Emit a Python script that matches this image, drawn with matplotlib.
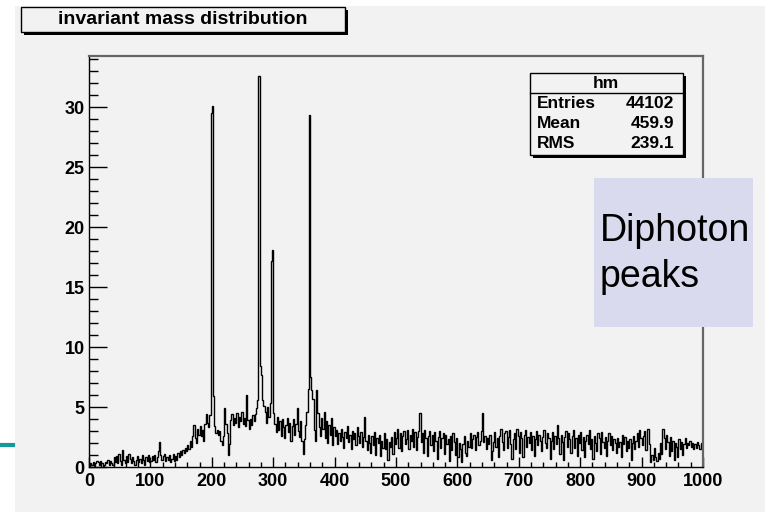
import numpy as np
import matplotlib.pyplot as plt
from matplotlib.patches import Rectangle
from matplotlib.lines import Line2D

# histogram "hm": 500 bins of width 2 between 0 and 1000
x_lo, x_hi, n_bins = 0, 1000, 500

c_000 = [0, 0.3, 0.2, 0.4, 0.1, 0.3, 0.5, 0.4, 0.2, 0.5,
         0.3, 0.1, 0.2, 0.4, 0.3, 0.6, 0.2, 0.5, 0.3, 0.2,
         0.8, 0.4, 0.9, 0.3, 1.1, 0.5, 0.2, 1.4, 0.6, 0.3,
         0.9, 0.4, 1.1, 0.7, 0.3, 0.8, 0.5, 0.2, 0.6, 0.9,
         0.4, 0.7, 0.3, 1.0, 0.6, 0.2, 0.8, 0.5, 1.0, 0.4]
c_100 = [0.5, 0.9, 0.6, 1.0, 0.4, 0.8, 1.3, 2.1, 1.0, 0.6,
         0.9, 1.1, 0.5, 0.8, 0.6, 1.0, 0.4, 0.7, 1.1, 0.5,
         0.9, 0.6, 1.2, 0.8, 1.3, 1.0, 1.4, 1.2, 1.6, 1.3,
         1.8, 1.5, 2.2, 1.7, 2.6, 3.5, 2.4, 2.0, 3.2, 2.7,
         3.4, 2.6, 3.1, 2.2, 3.6, 4.4, 3.7, 3.3, 4.3, 29.5]
c_200 = [30.1, 5.9, 3.4, 2.8, 3.1, 2.7, 3.0, 2.2, 1.8, 2.6,
         4.9, 3.6, 2.8, 1.0, 1.9, 3.9, 4.4, 3.5, 4.1, 3.7,
         4.5, 3.3, 4.2, 3.8, 4.6, 3.6, 4.1, 3.4, 6.0, 3.9,
         3.2, 4.0, 3.5, 4.3, 3.8, 4.4, 4.9, 5.6, 32.6, 8.4,
         7.7, 5.6, 5.1, 4.6, 3.7, 5.0, 4.2, 5.3, 17.2, 18.1]
c_300 = [4.5, 3.6, 2.9, 4.2, 3.1, 3.8, 2.6, 4.0, 3.3, 2.4,
         3.5, 4.1, 2.9, 3.7, 2.2, 3.4, 4.0, 2.7, 3.6, 4.9,
         3.0, 2.5, 3.8, 2.2, 1.1, 2.3, 3.5, 4.6, 6.5, 29.3,
         7.5, 6.4, 5.7, 3.1, 2.2, 6.4, 4.5, 3.3, 2.6, 4.1,
         3.2, 4.6, 2.4, 3.8, 2.0, 3.5, 2.7, 4.1, 1.8, 3.3]
c_400 = [2.6, 3.1, 1.9, 2.8, 2.2, 3.2, 2.5, 1.6, 2.9, 2.4,
         3.4, 2.1, 2.7, 1.5, 3.0, 2.3, 2.8, 1.8, 3.3, 2.6,
         2.0, 2.9, 1.7, 2.5, 4.2, 2.2, 1.4, 2.7, 2.0, 1.2,
         2.6, 1.8, 2.9, 1.0, 2.4, 2.0, 2.7, 0.9, 2.2, 1.6,
         2.8, 1.5, 2.3, 0.6, 2.1, 1.7, 2.5, 1.1, 2.9, 1.9]
c_500 = [2.4, 3.2, 1.6, 2.8, 1.3, 2.6, 3.0, 1.9, 2.3, 3.1,
         1.5, 2.7, 2.2, 3.2, 1.7, 2.9, 1.4, 2.5, 3.0, 4.5,
         2.1, 2.8, 1.2, 3.1, 2.4, 0.9, 2.6, 3.0, 1.8, 2.7,
         1.3, 2.9, 2.2, 0.7, 2.5, 3.0, 1.6, 2.4, 2.8, 1.1,
         2.7, 1.9, 2.3, 0.5, 2.6, 1.4, 2.8, 2.1, 1.0, 2.4]
c_600 = [0.8, 2.0, 1.5, 0.4, 1.9, 2.6, 1.2, 0.9, 2.2, 1.7,
         2.8, 1.6, 2.3, 2.7, 1.4, 2.5, 2.9, 1.8, 2.2, 3.0,
         4.5, 2.1, 2.6, 1.5, 2.4, 1.9, 2.7, 0.6, 1.3, 2.1,
         2.9, 1.7, 2.4, 0.8, 2.6, 3.2, 2.1, 1.4, 2.8, 3.0,
         1.6, 2.5, 3.1, 1.9, 0.7, 2.3, 2.8, 1.5, 3.2, 2.6]
c_700 = [1.2, 2.9, 2.4, 0.8, 2.7, 3.1, 1.7, 2.5, 2.0, 2.9,
         1.4, 2.6, 0.9, 2.3, 3.0, 1.8, 2.7, 2.2, 1.3, 2.5,
         3.1, 2.0, 1.6, 2.8, 2.4, 0.7, 2.2, 2.9, 1.5, 2.6,
         1.9, 3.5, 2.4, 1.1, 2.7, 2.1, 0.6, 2.5, 3.0, 1.7,
         2.8, 2.3, 1.2, 2.6, 3.1, 1.6, 2.4, 0.9, 2.7, 2.0]
c_800 = [2.9, 1.4, 2.5, 0.8, 2.2, 2.7, 1.9, 3.1, 1.5, 2.3,
         0.7, 2.6, 2.0, 1.3, 2.8, 2.4, 1.1, 2.9, 2.1, 1.6,
         2.5, 0.9, 2.2, 2.8, 1.8, 2.6, 1.4, 2.3, 2.0, 1.2,
         2.4, 1.7, 2.1, 0.8, 2.7, 1.9, 2.5, 1.3, 2.2, 1.6,
         2.3, 0.6, 2.0, 2.6, 1.5, 2.2, 2.8, 1.7, 3.1, 2.4]
c_900 = [1.8, 2.6, 3.0, 1.4, 3.2, 3.2, 1.9, 0.4, 1.0, 0.6,
         1.6, 0.8, 0.5, 1.2, 0.7, 2.0, 1.1, 3.2, 2.4, 1.5,
         2.7, 2.1, 0.9, 2.5, 1.3, 2.2, 0.6, 2.0, 1.7, 0.8,
         2.3, 1.5, 2.1, 1.0, 1.9, 2.4, 1.6, 2.0, 1.8, 2.2,
         1.7, 2.0, 1.5, 1.9, 1.6, 2.1, 1.8, 1.5, 2.0, 1.7]

counts = np.array(c_000 + c_100 + c_200 + c_300 + c_400
                  + c_500 + c_600 + c_700 + c_800 + c_900)
edges = np.linspace(x_lo, x_hi, n_bins + 1)

title = 'invariant mass distribution'
hist_name = 'hm'
stat_names = ['Entries', 'Mean', 'RMS']
stat_values = ['44102', '459.9', '239.1']
note = 'Diphoton\npeaks'

W, H = 765, 512
bg = '#f2f2f2'
bold = dict(family='Liberation Sans', weight='bold', color='black')


def fx(px):
    return px / W


def fy(py):
    return 1 - py / H


def box(x0, y0, x1, y1, face=bg, shadow=True):
    # ROOT style pave: box with a dark shadow on the lower right
    if shadow:
        fig.patches.append(Rectangle((fx(x0 + 3), fy(y1 + 3)), fx(x1 - x0), (y1 - y0) / H,
                                     transform=fig.transFigure, facecolor='black',
                                     edgecolor='none', zorder=4))
    fig.patches.append(Rectangle((fx(x0), fy(y1)), fx(x1 - x0), (y1 - y0) / H,
                                 transform=fig.transFigure, facecolor=face,
                                 edgecolor='black', lw=1.0, zorder=5))


fig = plt.figure(figsize=(W / 100, H / 100), dpi=100, facecolor='white')
fig.patches.append(Rectangle((fx(15), 0), 1, fy(6), transform=fig.transFigure,
                             facecolor=bg, edgecolor='none', zorder=-5))
fig.lines.append(Line2D([0, fx(13)], [fy(445), fy(445)], transform=fig.transFigure,
                        color='#12999a', lw=3))

ax = fig.add_axes([fx(89), fy(467), fx(703 - 89), (467 - 56) / H])
ax.set_facecolor(bg)
ax.stairs(counts, edges, color='black', lw=1.0)
ax.set_xlim(x_lo, x_hi)
ax.set_ylim(0, 34.25)

ax.set_xticks(np.arange(0, 1001, 100))
ax.set_xticks(np.arange(0, 1001, 20), minor=True)
ax.set_yticks(np.arange(0, 31, 5))
ax.set_yticks(np.arange(0, 35, 1), minor=True)
ax.tick_params(axis='x', which='major', direction='in', length=7, width=1, pad=4)
ax.tick_params(axis='x', which='minor', direction='in', length=3.6, width=1)
ax.tick_params(axis='y', which='major', direction='in', length=13, width=1, pad=3)
ax.tick_params(axis='y', which='minor', direction='in', length=6.5, width=1)
for lab in ax.get_xticklabels() + ax.get_yticklabels():
    lab.set_fontfamily('Liberation Sans')
    lab.set_fontweight('bold')
    lab.set_fontsize(13)
for s in ['top', 'right']:
    ax.spines[s].set_color('#666666')
    ax.spines[s].set_linewidth(1.6)
for s in ['left', 'bottom']:
    ax.spines[s].set_color('black')
    ax.spines[s].set_linewidth(1.0)

# title pave
box(21, 7, 345, 32)
fig.text(fx(183), fy(19.5), title, ha='center', va='center', fontsize=14, zorder=6, **bold)

# stats box
box(530, 73, 683, 155, shadow=True)
fig.lines.append(Line2D([fx(530), fx(683)], [fy(93), fy(93)], transform=fig.transFigure,
                        color='black', lw=1.0, zorder=6))
fig.text(fx(606), fy(84), hist_name, ha='center', va='center', fontsize=12.5, zorder=6, **bold)
for i, (name, val) in enumerate(zip(stat_names, stat_values)):
    yy = fy(104 + 20 * i)
    fig.text(fx(537), yy, name, ha='left', va='center', fontsize=12.5, zorder=6, **bold)
    fig.text(fx(674), yy, val, ha='right', va='center', fontsize=12.5, zorder=6, **bold)

# annotation
fig.patches.append(Rectangle((fx(594), fy(327)), fx(753 - 594), (327 - 178) / H,
                             transform=fig.transFigure, facecolor='#dadaee',
                             edgecolor='none', zorder=5))
fig.text(fx(600), fy(254), note, ha='left', va='center', fontsize=27,
         family='Liberation Sans', color='black', linespacing=1.35, zorder=6)

fig.savefig('out.png', dpi=100, facecolor=fig.get_facecolor())
